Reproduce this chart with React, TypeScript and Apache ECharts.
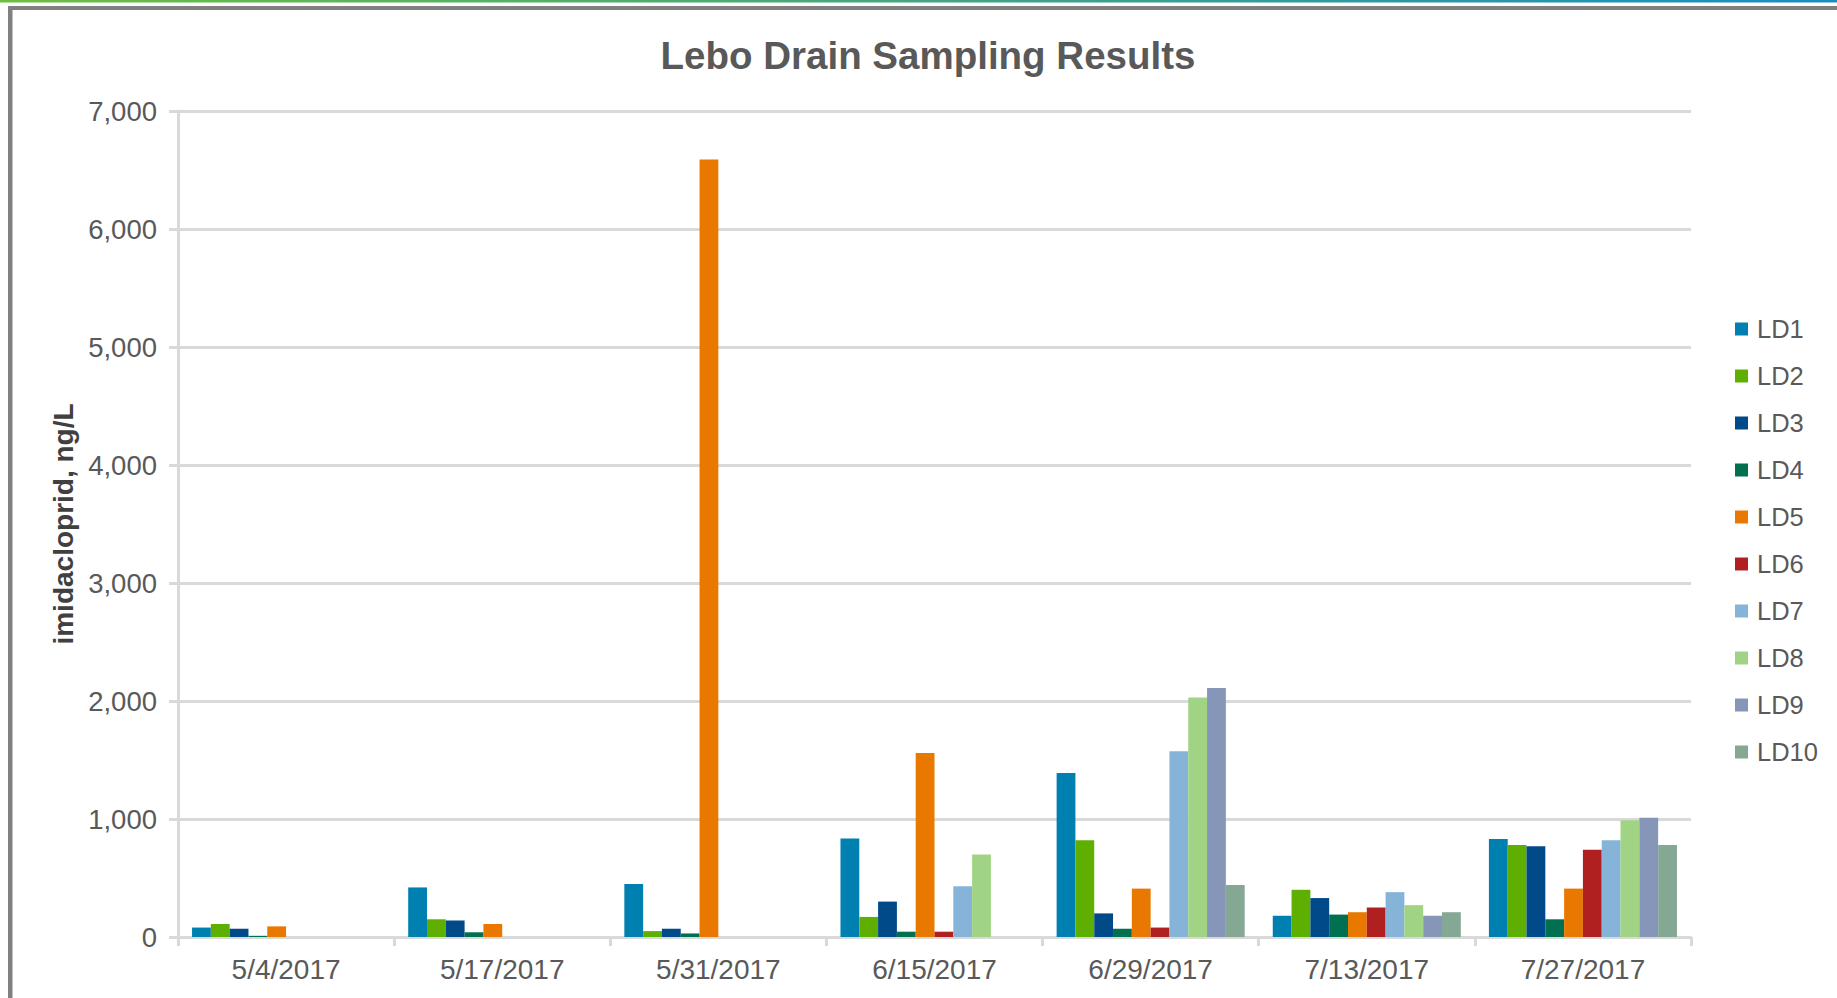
import React, { useEffect, useRef } from "react";
import * as echarts from "echarts";

const categories = ["5/4/2017", "5/17/2017", "5/31/2017", "6/15/2017", "6/29/2017", "7/13/2017", "7/27/2017"];
const seriesNames = ["LD1", "LD2", "LD3", "LD4", "LD5", "LD6", "LD7", "LD8", "LD9", "LD10"];
const seriesColors = ["#0080B0", "#5FAF00", "#004A8A", "#007050", "#E87800", "#B02020", "#86B4D8", "#A0D484", "#8696B8", "#84A894"];
const ld1 = [80, 420, 450, 835, 1390, 180, 830];
const ld2 = [110, 150, 50, 170, 820, 400, 780];
const ld3 = [70, 140, 70, 300, 200, 330, 770];
const ld4 = [10, 40, 30, 45, 70, 190, 150];
const ld5 = [90, 110, 6590, 1560, 410, 210, 410];
const ld6 = [null, null, null, 45, 80, 250, 740];
const ld7 = [null, null, null, 430, 1575, 380, 820];
const ld8 = [null, null, null, 700, 2030, 270, 990];
const ld9 = [null, null, null, null, 2110, 180, 1010];
const ld10 = [null, null, null, null, 440, 210, 780];
const seriesValues = [ld1, ld2, ld3, ld4, ld5, ld6, ld7, ld8, ld9, ld10];

const FONT = "'Liberation Sans', Arial, sans-serif";

export default function App() {
  const ref = useRef<HTMLDivElement>(null);
  useEffect(() => {
    document.body.style.margin = "0";
    const chart = echarts.init(ref.current!, null, { renderer: "svg" });
    chart.setOption({
      animation: false,
      backgroundColor: "#ffffff",
      textStyle: { fontFamily: FONT },
      title: {
        text: "Lebo Drain Sampling Results",
        left: 923,
        top: 31,
        textAlign: "center",
        textStyle: { fontFamily: FONT, fontSize: 38.5, fontWeight: "bold", color: "#595959" },
      },
      graphic: [
        {
          type: "rect",
          shape: { x: 0, y: 0, width: 1837, height: 2.5 },
          style: {
            fill: new echarts.graphic.LinearGradient(0, 0, 1, 0, [
              { offset: 0, color: "#6BBF3E" },
              { offset: 1, color: "#1A8CC4" },
            ]),
          },
        },
        { type: "rect", shape: { x: 8, y: 6, width: 1829, height: 4 }, style: { fill: "#808080" } },
        { type: "rect", shape: { x: 8, y: 6, width: 4.5, height: 992 }, style: { fill: "#808080" } },
      ],
      legend: {
        orient: "vertical",
        left: 1730,
        top: 311,
        itemGap: 21,
        itemWidth: 13,
        itemHeight: 13,
        icon: "rect",
        data: seriesNames,
        textStyle: { fontFamily: FONT, fontSize: 25.5, lineHeight: 26, color: "#595959", padding: [0, 0, 0, 4] },
      },
      grid: { left: 178, right: 146, top: 111, bottom: 61, containLabel: false },
      xAxis: {
        type: "category",
        data: categories,
        axisLine: { show: true, lineStyle: { color: "#d9d9d9", width: 3 } },
        axisTick: { show: true, alignWithLabel: false, length: 9, lineStyle: { color: "#d9d9d9", width: 3 } },
        axisLabel: { fontFamily: FONT, fontSize: 28, color: "#595959", margin: 18 },
        splitLine: { show: false },
      },
      yAxis: {
        type: "value",
        min: 0,
        max: 7000,
        interval: 1000,
        name: "imidacloprid, ng/L",
        nameLocation: "middle",
        nameGap: 98,
        nameRotate: 90,
        nameTextStyle: { fontFamily: FONT, fontSize: 28, fontWeight: "bold", color: "#404040" },
        axisLine: { show: true, lineStyle: { color: "#d9d9d9", width: 3 } },
        axisTick: { show: true, length: 9, lineStyle: { color: "#d9d9d9", width: 3 } },
        axisLabel: {
          fontFamily: FONT,
          fontSize: 27.5,
          color: "#595959",
          margin: 21,
          formatter: (v: number) => v.toLocaleString("en-US"),
        },
        splitLine: { show: true, lineStyle: { color: "#d9d9d9", width: 3 } },
      },
      series: seriesNames.map((name, i) => ({
        name,
        type: "bar",
        data: seriesValues[i],
        barGap: "0%",
        barCategoryGap: "13%",
        itemStyle: { color: seriesColors[i] },
      })),
    });
    return () => chart.dispose();
  }, []);
  return <div ref={ref} style={{ width: 1837, height: 998 }} />;
}
